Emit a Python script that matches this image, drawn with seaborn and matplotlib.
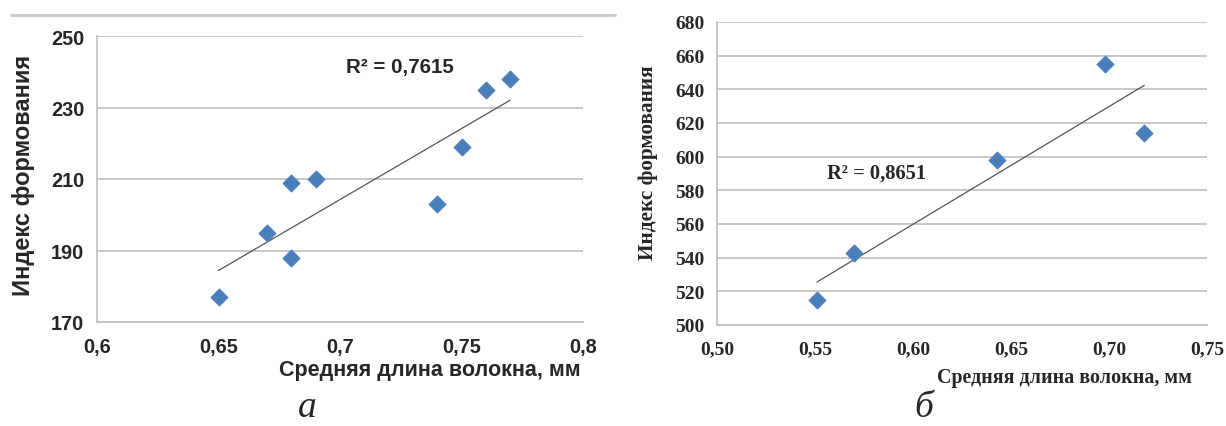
import numpy as np
import pandas as pd
import matplotlib
matplotlib.use('Agg')
import matplotlib.pyplot as plt
import seaborn as sns
from matplotlib.lines import Line2D

# Panel a
len_a = [0.65, 0.67, 0.68, 0.68, 0.69, 0.74, 0.75, 0.76, 0.77]
idx_a = [177, 195, 209, 188, 210, 203, 219, 235, 238]
r2_a = 'R² = 0,7615'

# Panel б
len_b = [0.551, 0.570, 0.643, 0.698, 0.718]
idx_b = [515, 543, 598, 655, 614]
r2_b = 'R² = 0,8651'

xticks_a = [0.6, 0.65, 0.7, 0.75, 0.8]
xlabels_a = ['0,6', '0,65', '0,7', '0,75', '0,8']
yticks_a = [170, 190, 210, 230, 250]
xticks_b = [0.50, 0.55, 0.60, 0.65, 0.70, 0.75]
xlabels_b = ['0,50', '0,55', '0,60', '0,65', '0,70', '0,75']
yticks_b = list(range(500, 681, 20))

sns.set_style('white')
blue = '#4a7ebb'
grid = '#bfbfbf'
W, H = 1226, 427

fig = plt.figure(figsize=(12.26, 4.27), dpi=100)
ax1 = fig.add_axes([97 / W, 1 - 323 / H, 486 / W, 286 / H])
ax2 = fig.add_axes([717 / W, 1 - 326 / H, 490 / W, 303 / H])

df_a = pd.DataFrame({'x': len_a, 'y': idx_a})
df_b = pd.DataFrame({'x': len_b, 'y': idx_b})


def fpos(px, py):
    return (px / W, 1 - py / H)


def draw(ax, df, xt, xl, yt, font, fs_tick, xlab, ylab, r2, pad_x, pad_y):
    ax.set_axisbelow(True)
    ax.yaxis.grid(True, color=grid, linewidth=1.2)
    sns.regplot(data=df, x='x', y='y', ax=ax, scatter=False, ci=None,
                line_kws={'color': '#555555', 'linewidth': 0.9})
    sns.scatterplot(data=df, x='x', y='y', ax=ax, marker='D', s=75,
                    color=blue, edgecolor=blue, zorder=3)
    ax.set_xlim(xt[0], xt[-1])
    ax.set_ylim(yt[0], yt[-1])
    ax.set_xticks(xt)
    ax.set_xticklabels(xl)
    ax.set_yticks(yt)
    for s in ['top', 'right']:
        ax.spines[s].set_visible(False)
    for s in ['left', 'bottom']:
        ax.spines[s].set_color(grid)
        ax.spines[s].set_linewidth(1.2)
    ax.tick_params(axis='x', direction='out', length=5, color=grid, width=1.2, pad=pad_x)
    ax.tick_params(axis='y', direction='out', length=5, color=grid, width=1.2, pad=pad_y)
    for lab in ax.get_xticklabels() + ax.get_yticklabels():
        lab.set_fontfamily(font)
        lab.set_fontweight('bold')
        lab.set_fontsize(fs_tick)
    ax.set_xlabel('')
    ax.set_ylabel('')
    fig.text(*fpos(*xlab[0]), 'Средняя длина волокна, мм', family=font,
             fontweight='bold', fontsize=xlab[1], ha='left', va='center')
    fig.text(*fpos(*ylab[0]), 'Индекс формования', family=font,
             fontweight='bold', fontsize=ylab[1], rotation=90,
             ha='center', va='center')
    fig.text(*fpos(*r2[1]), r2[0], family=font, fontweight='bold',
             fontsize=r2[2], ha='left', va='center')


draw(ax1, df_a, xticks_a, xlabels_a, yticks_a, 'Liberation Sans', 14.3,
     ((279, 371), 15.5), ((24, 175), 17), (r2_a, (346, 68), 14.8), 6, 4)
draw(ax2, df_b, xticks_b, xlabels_b, yticks_b, 'Liberation Serif', 14,
     ((937, 378), 14.4), ((648, 163), 15.3), (r2_b, (827, 174), 14.8), 6, 4)

fig.add_artist(Line2D([11 / W, 615 / W], [1 - 16 / H, 1 - 16 / H],
                      color='#c8c8c8', linewidth=2))

fig.text(*fpos(298, 425), 'а', family='Liberation Serif',
         style='italic', fontsize=27, ha='left', va='bottom')
fig.text(*fpos(914, 425), 'б', family='Liberation Serif',
         style='italic', fontsize=27, ha='left', va='bottom')

fig.savefig('out.png', dpi=100)
